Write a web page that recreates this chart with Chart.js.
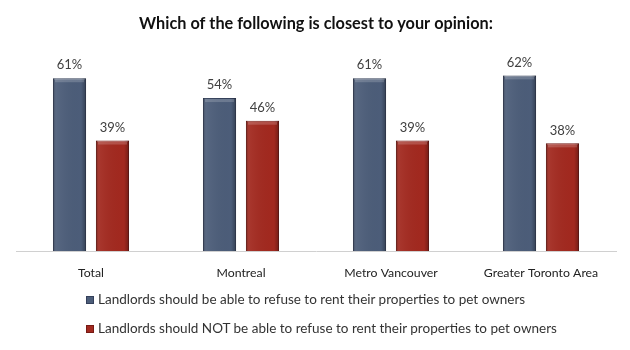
<!DOCTYPE html>
<html lang="en">
<head>
    <meta charset="UTF-8">
    <title>Which of the following is closest to your opinion</title>
    <style>
        body { margin: 0; background: #fff; font-family: Lato, "Open Sans", Arial, sans-serif; }
        #wrap { position: relative; width: 630px; height: 350px; }
        #legend { position: absolute; left: 86px; top: 290px; font-size: 13.5px; color: #333; }
        .item { height: 18px; line-height: 18px; margin-bottom: 11px; white-space: nowrap; }
        .box { display: inline-block; width: 6px; height: 6px; margin-right: 4px; vertical-align: 0px; }
    </style>
</head>
<body>
    <div id="wrap">
        <canvas id="chart" width="630" height="350"></canvas>
        <div id="legend"></div>
    </div>

    <script src="https://cdn.jsdelivr.net/npm/chart.js"></script>
    <script>
        const regions = ['Total', 'Montreal', 'Metro Vancouver', 'Greater Toronto Area'];
        const canRefuse = [61, 54, 61, 62];
        const cannotRefuse = [39, 46, 39, 38];
        const seriesNames = [
            'Landlords should be able to refuse to rent their properties to pet owners',
            'Landlords should NOT be able to refuse to rent their properties to pet owners'
        ];
        const fills = ['#4c5d79', '#a2291f'];
        const edges = ['#34405a', '#761a14'];

        // shaded bevel over each bar, darker at the sides
        const bevel = {
            id: 'bevel',
            afterDatasetsDraw(chart) {
                const c = chart.ctx;
                chart.data.datasets.forEach((ds, i) => {
                    chart.getDatasetMeta(i).data.forEach(bar => {
                        const { x, y, width, base } = bar.getProps(['x', 'y', 'width', 'base'], true);
                        const l = x - width / 2;
                        const g = c.createLinearGradient(l, 0, l + width, 0);
                        g.addColorStop(0, 'rgba(0,0,0,0.25)');
                        g.addColorStop(0.12, 'rgba(255,255,255,0.06)');
                        g.addColorStop(0.85, 'rgba(0,0,0,0)');
                        g.addColorStop(1, 'rgba(0,0,0,0.3)');
                        c.save();
                        c.fillStyle = g;
                        c.fillRect(l, y, width, base - y);
                        c.fillStyle = 'rgba(255,255,255,0.18)';
                        c.fillRect(l + 2, y + 1, width - 4, 3);
                        c.restore();
                    });
                });
            }
        };

        // percentage labels above the bars
        const valueLabels = {
            id: 'valueLabels',
            afterDatasetsDraw(chart) {
                const c = chart.ctx;
                c.save();
                c.font = '13px Lato, "Open Sans", sans-serif';
                c.fillStyle = '#404040';
                c.textAlign = 'center';
                c.textBaseline = 'middle';
                chart.data.datasets.forEach((ds, i) => {
                    chart.getDatasetMeta(i).data.forEach((bar, j) => {
                        c.fillText(ds.data[j] + '%', bar.x, bar.y - 13);
                    });
                });
                c.restore();
            }
        };

        new Chart(document.getElementById('chart'), {
            type: 'bar',
            data: {
                labels: regions,
                datasets: [
                    { label: seriesNames[0], data: canRefuse, backgroundColor: fills[0], borderColor: edges[0], borderWidth: 1 },
                    { label: seriesNames[1], data: cannotRefuse, backgroundColor: fills[1], borderColor: edges[1], borderWidth: 1 }
                ]
            },
            options: {
                responsive: false,
                animation: false,
                categoryPercentage: 0.573,
                barPercentage: 0.77,
                layout: { padding: { left: 16, right: 14 } },
                plugins: {
                    legend: { display: false },
                    tooltip: { enabled: false },
                    title: {
                        display: true,
                        text: 'Which of the following is closest to your opinion:',
                        color: '#111',
                        font: { family: 'Lato, "Open Sans", sans-serif', size: 16.3, weight: 'bold', lineHeight: 1.2 },
                        padding: { top: 14, bottom: 5 }
                    }
                },
                scales: {
                    x: {
                        grid: { display: false },
                        border: { display: true, color: '#d0d0d0' },
                        ticks: { color: '#222', padding: 7, font: { family: 'Lato, "Open Sans", sans-serif', size: 12.3 } },
                        afterFit(scale) { scale.height = 99; }
                    },
                    y: {
                        display: false,
                        min: 0,
                        max: 75
                    }
                }
            },
            plugins: [bevel, valueLabels]
        });

        const legend = document.getElementById('legend');
        seriesNames.forEach((name, i) => {
            const row = document.createElement('div');
            row.className = 'item';
            row.innerHTML = '<span class="box" style="background:' + fills[i] + ';border:1px solid ' + edges[i] + '"></span>' + name;
            legend.appendChild(row);
        });
    </script>
</body>
</html>
